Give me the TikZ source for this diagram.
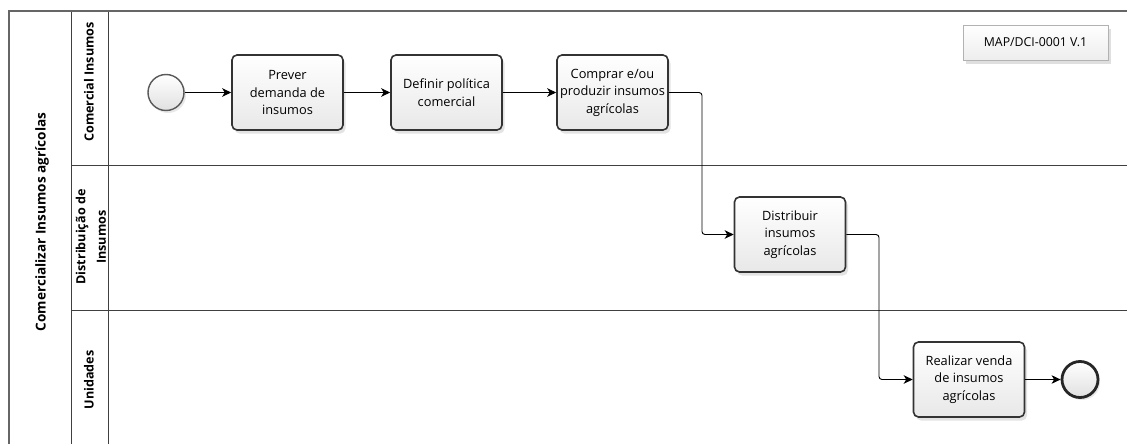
\documentclass[tikz,border=0pt]{standalone}
\usepackage{fontspec}
\setmainfont{Open Sans}
\usetikzlibrary{arrows.meta,shadows,positioning}

\tikzset{
  lane/.style={draw=black!75, line width=1pt},
  poolline/.style={draw=black!60, line width=1.6pt},
  task/.style={draw=black!80, line width=1.6pt, rounded corners=5pt,
    top color=white, bottom color=black!9, minimum width=111pt, minimum height=75pt, align=center,
    inner sep=2pt, font=\fontsize{12.8}{17.5}\selectfont,
    drop shadow={opacity=0.22, shadow xshift=2.5pt, shadow yshift=-3.5pt}},
  startev/.style={circle, draw=black!65, line width=1.4pt, top color=white, bottom color=black!12,
    minimum size=36pt, inner sep=0pt,
    drop shadow={opacity=0.18, shadow xshift=2pt, shadow yshift=-2.5pt}},
  endev/.style={circle, draw=black!85, line width=2.8pt, top color=white, bottom color=black!12,
    minimum size=36pt, inner sep=0pt,
    drop shadow={opacity=0.18, shadow xshift=2pt, shadow yshift=-2.5pt}},
  flow/.style={draw=black, line width=0.9pt, rounded corners=3pt,
    -{Stealth[length=9pt,width=8.5pt,inset=2.5pt]}},
  lanetitle/.style={rotate=90, font=\bfseries\fontsize{12.6}{17.5}\selectfont, align=center},
  pooltitle/.style={rotate=90, font=\bfseries\fontsize{13.6}{17.5}\selectfont},
  versionbox/.style={draw=black!30, line width=0.6pt, top color=white, bottom color=black!7,
    minimum width=145pt, minimum height=35pt, font=\fontsize{12.3}{14}\selectfont,
    drop shadow={opacity=0.25, shadow xshift=3pt, shadow yshift=-4pt}}
}

\begin{document}
\begin{tikzpicture}[x=1pt, y=-1pt]
  \useasboundingbox (0,0) rectangle (1127,444);
  \fill[white] (0,0) rectangle (1127,444);

  % pool and lanes
  \draw[lane] (71,11) -- (71,444);
  \draw[lane] (108,11) -- (108,444);
  \draw[lane] (71,165) -- (1127,165);
  \draw[lane] (71,310) -- (1127,310);
  \draw[poolline] (9,444) -- (9,11) -- (1127,11);

  % pool and lane titles
  \node[pooltitle] (pool) at (42,222) {Comercializar Insumos agrícolas};
  \node[lanetitle] (l1) at (89,82) {Comercial Insumos};
  \node[lanetitle] (l2) at (91,237) {Distribuição de\\[3pt]Insumos};
  \node[lanetitle] (l3) at (89,380) {Unidades};

  % version label
  \node[versionbox] (ver) at (1035.5,42.5) {MAP/DCI-0001 V.1};

  % events and tasks
  \node[startev] (start) at (166,92.5) {};
  \node[task] (t1) at (287.5,92.5) {Prever\\demanda de\\insumos};
  \node[task] (t2) at (446.5,92.5) {Definir política\\comercial};
  \node[task] (t3) at (612.5,92.5) {Comprar e/ou\\produzir insumos\\agrícolas};
  \node[task] (t4) at (790,234.5) {Distribuir\\insumos\\agrícolas};
  \node[task] (t5) at (969,379.5) {Realizar venda\\de insumos\\agrícolas};
  \node[endev] (stop) at (1080,379.5) {};

  % sequence flows
  \coordinate (c1) at (702,92.5);
  \coordinate (c2) at (702,234.5);
  \coordinate (c3) at (879,234.5);
  \coordinate (c4) at (879,379.5);
  \draw[flow] (start) -- (t1);
  \draw[flow] (t1) -- (t2);
  \draw[flow] (t2) -- (t3);
  \draw[flow] (t3.east) -- (c1) -- (c2) -- (t4.west);
  \draw[flow] (t4.east) -- (c3) -- (c4) -- (t5.west);
  \draw[flow] (t5) -- (stop);
\end{tikzpicture}
\end{document}
